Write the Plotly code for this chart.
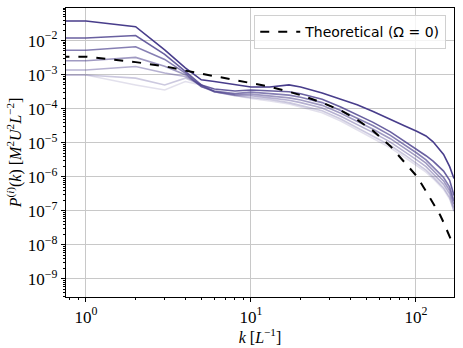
import numpy as np
import plotly.graph_objects as go

# ── values (log10 of P, wavenumber k in 1/L) ─────────────────────────────────
k = [0.7, 1, 2, 3, 4, 5, 6, 8, 10, 13, 17, 20, 27, 35, 44, 55, 70, 85,
     101, 115, 127, 140, 147, 160, 170]

logp_1 = [-1.42, -1.42, -1.59, -2.27, -2.80, -3.15, -3.20, -3.30, -3.36, -3.36, -3.30, -3.36, -3.54,
          -3.72, -3.88, -4.08, -4.32, -4.50, -4.66, -4.80, -4.97, -5.20, -5.34, -5.70, -6.05]
logp_2 = [-1.92, -1.92, -1.85, -2.40, -2.90, -3.30, -3.42, -3.48, -3.45, -3.47, -3.50, -3.56, -3.72,
          -3.95, -4.17, -4.40, -4.68, -4.95, -5.18, -5.38, -5.54, -5.72, -5.83, -6.10, -6.55]
logp_3 = [-2.28, -2.28, -2.18, -2.55, -2.95, -3.35, -3.48, -3.55, -3.51, -3.55, -3.60, -3.66, -3.82,
          -4.05, -4.27, -4.50, -4.78, -5.05, -5.30, -5.50, -5.70, -5.90, -6.02, -6.30, -6.70]
logp_4 = [-2.59, -2.59, -2.49, -2.75, -3.00, -3.35, -3.50, -3.58, -3.57, -3.62, -3.68, -3.74, -3.90,
          -4.13, -4.37, -4.60, -4.88, -5.15, -5.40, -5.60, -5.80, -6.00, -6.12, -6.40, -6.80]
logp_5 = [-2.86, -2.86, -2.76, -2.95, -3.05, -3.30, -3.50, -3.60, -3.62, -3.68, -3.75, -3.82, -3.98,
          -4.22, -4.46, -4.70, -4.98, -5.25, -5.50, -5.70, -5.90, -6.10, -6.22, -6.50, -6.90]
logp_6 = [-3.01, -3.01, -3.10, -3.30, -3.10, -3.30, -3.50, -3.62, -3.67, -3.73, -3.82, -3.90, -4.06,
          -4.30, -4.55, -4.80, -5.08, -5.35, -5.60, -5.80, -6.00, -6.20, -6.32, -6.60, -7.00]
logp_7 = [-3.01, -3.01, -3.30, -3.45, -3.20, -3.30, -3.50, -3.62, -3.70, -3.77, -3.86, -3.95, -4.12,
          -4.36, -4.62, -4.87, -5.15, -5.42, -5.66, -5.86, -6.05, -6.25, -6.37, -6.65, -7.02]
logp_theory = [-2.47, -2.47, -2.63, -2.75, -2.88, -2.97, -3.03, -3.14, -3.23, -3.35, -3.50, -3.60, -3.82,
               -4.05, -4.32, -4.65, -5.10, -5.55, -5.98, -6.42, -6.76, -7.12, -7.34, -7.75, -8.05]

series = [logp_1, logp_2, logp_3, logp_4, logp_5, logp_6, logp_7]
alphas = [1.0, 0.82, 0.66, 0.52, 0.40, 0.28, 0.16]

x_ticks = [1, 10, 100]
x_ticktext = ["10<sup>0</sup>", "10<sup>1</sup>", "10<sup>2</sup>"]
y_ticks = [1e-2, 1e-3, 1e-4, 1e-5, 1e-6, 1e-7, 1e-8, 1e-9]
y_ticktext = [f"10<sup>−{n}</sup>" for n in range(2, 10)]

SERIF = "Liberation Serif"
SANS = "DejaVu Sans"
GRID = "#c8c8c8"
TICKFONT = dict(family=SERIF, size=17, color="black")

fig = go.Figure()

# lightest first so the dark curves sit on top
for vals, a in reversed(list(zip(series, alphas))):
    fig.add_trace(go.Scatter(
        x=k, y=np.power(10.0, vals), mode="lines",
        line=dict(color=f"rgba(72,61,139,{a})", width=1.6),
        showlegend=False, hoverinfo="skip",
    ))

fig.add_trace(go.Scatter(
    x=k, y=np.power(10.0, logp_theory), mode="lines",
    name="Theoretical (Ω = 0)",
    line=dict(color="black", width=2, dash="dash"),
))

fig.update_layout(
    width=463, height=348,
    paper_bgcolor="white", plot_bgcolor="white",
    margin=dict(l=66, r=9, t=8, b=51),
    font=dict(family=SERIF, color="black", size=15),
    legend=dict(
        x=0.98, y=0.975, xanchor="right", yanchor="top",
        bgcolor="rgba(255,255,255,0.8)", bordercolor="#d0d0d0", borderwidth=1,
        font=dict(family=SANS, size=14),
        itemwidth=40,
    ),
)

minor = dict(ticks="outside", ticklen=2, tickcolor="black", showgrid=False, dtick="D1")
axis_common = dict(
    type="log", showgrid=True, gridcolor=GRID, gridwidth=1,
    ticks="outside", ticklen=4, tickcolor="black", tickfont=TICKFONT,
    showline=True, linecolor="black", linewidth=1.2, mirror=True,
    zeroline=False, automargin=False, minor=minor,
)

fig.update_xaxes(
    range=[np.log10(0.757), np.log10(170)],
    tickvals=x_ticks, ticktext=x_ticktext,
    title=dict(text="<i>k</i> [<i>L</i><sup>−1</sup>]", font=dict(family=SERIF, size=16), standoff=4),
    **axis_common,
)
fig.update_yaxes(
    range=[-9.53, -1.04],
    tickvals=y_ticks, ticktext=y_ticktext,
    title=dict(text="<i>P</i><sup>(<i>i</i>)</sup>(<i>k</i>) [<i>M</i><sup>2</sup><i>U</i><sup>2</sup><i>L</i><sup>−2</sup>]",
               font=dict(family=SERIF, size=16), standoff=2),
    **axis_common,
)

# the page body has a default 8px margin; drop it so the figure sits at (0, 0)
fig.write_html("out.html", config={"displayModeBar": False},
               post_script="document.body.style.margin='0';")
